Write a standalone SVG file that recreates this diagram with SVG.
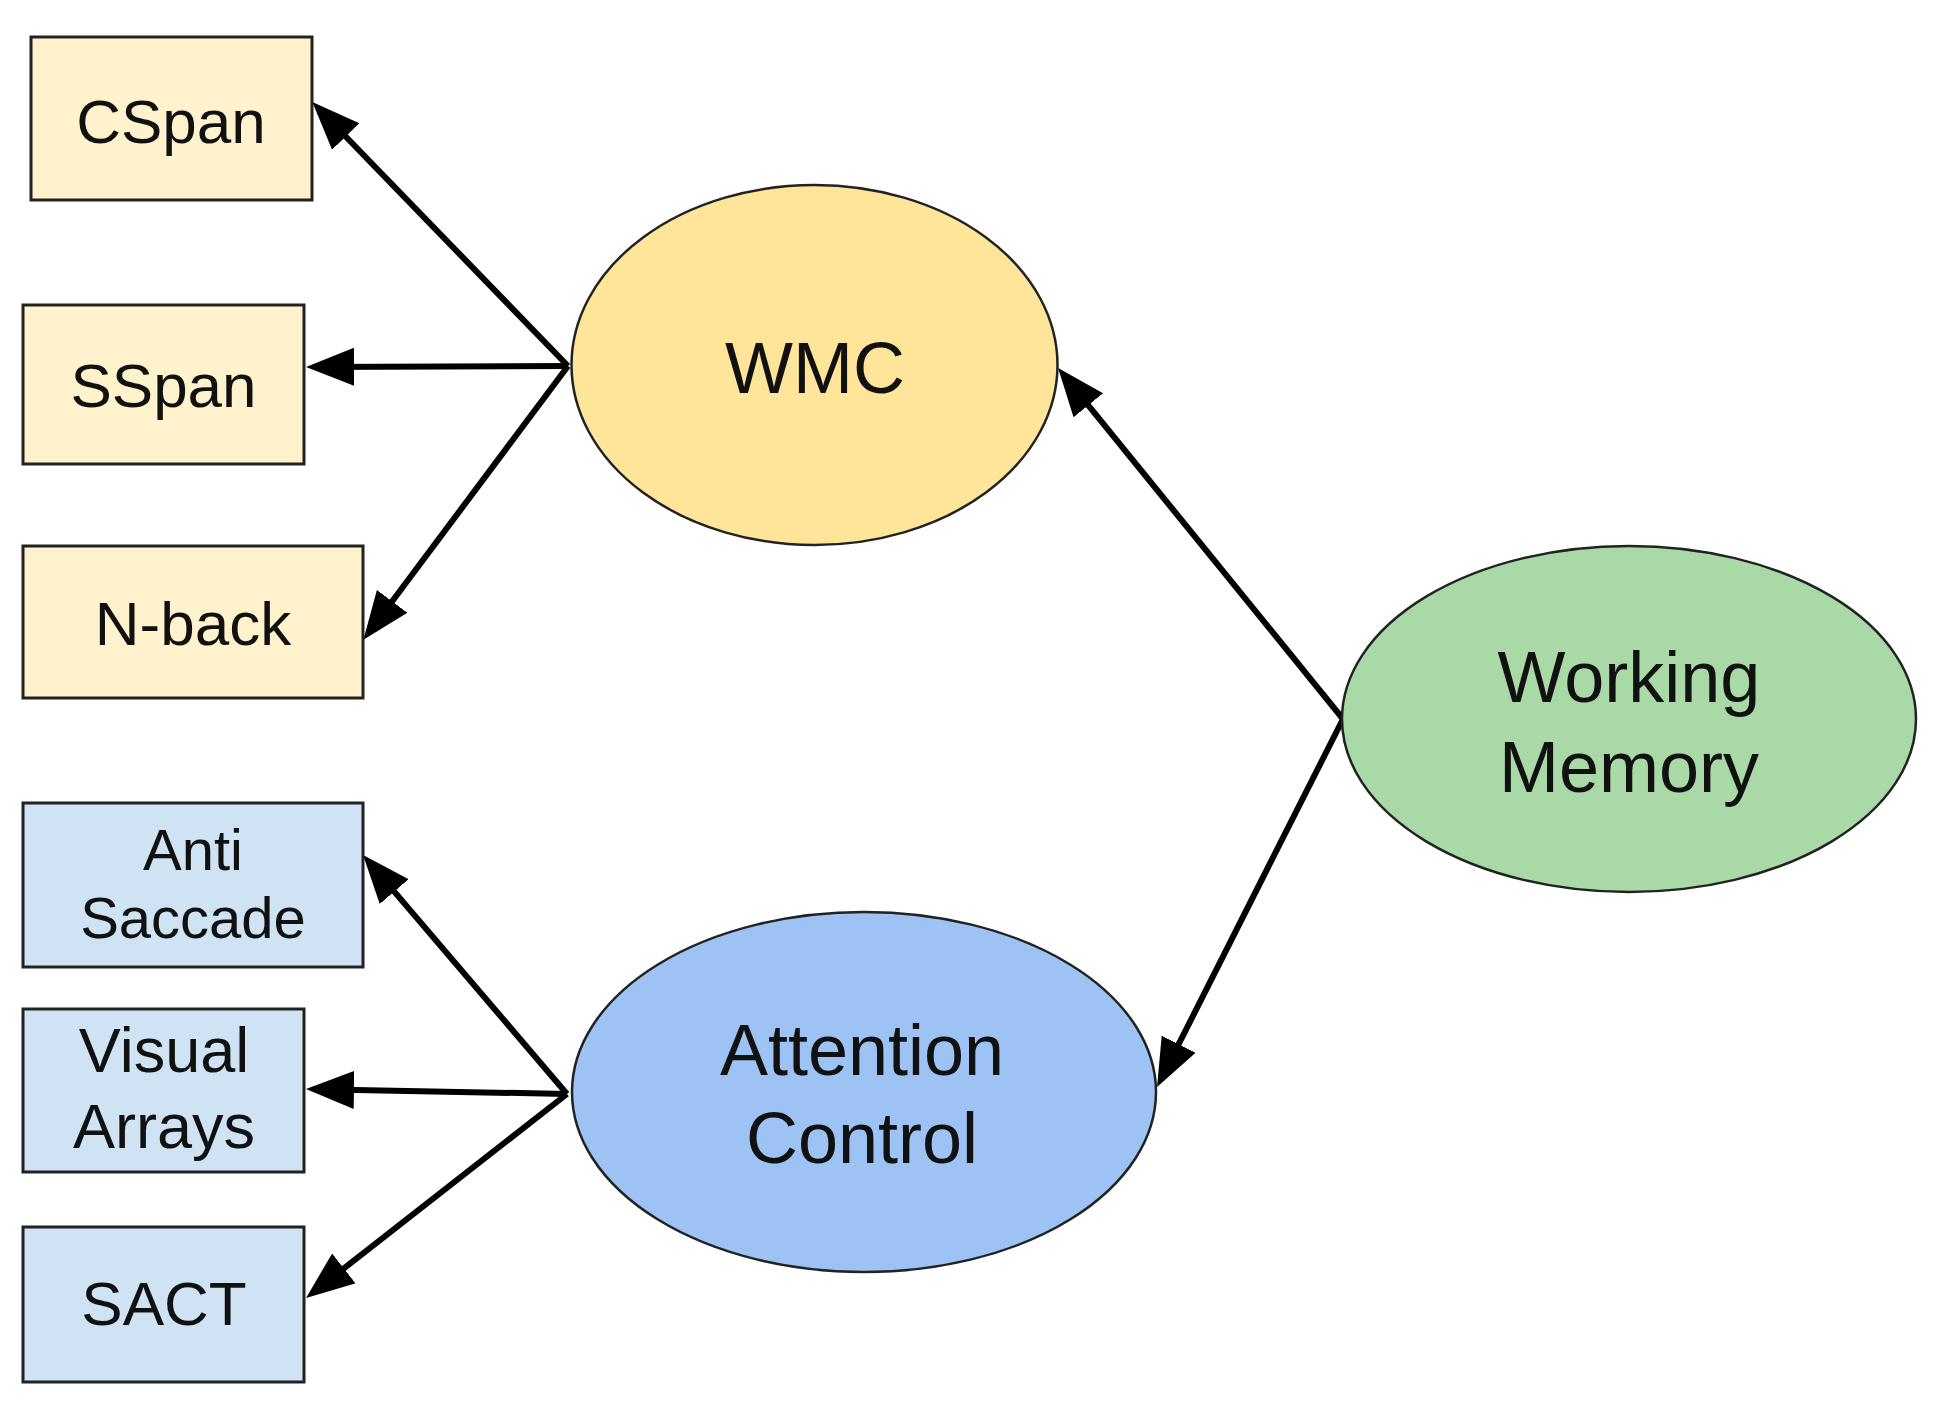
<svg xmlns="http://www.w3.org/2000/svg" width="1935" height="1419" viewBox="0 0 1935 1419">
<style>
text{font-family:"Liberation Sans",Arial,sans-serif;fill:#111;text-anchor:middle}
.box{stroke:#222;stroke-width:3}
.y{fill:#FFF2CC}
.b{fill:#CFE3F5}
.ell{stroke:#222;stroke-width:2.5}
.con{stroke:#000;stroke-width:6;fill:none;marker-end:url(#ah)}
</style>
<defs>
<marker id="ah" markerUnits="userSpaceOnUse" markerWidth="50" markerHeight="40" refX="37" refY="19" orient="auto">
<path d="M0,0 L48,19 L0,38 Z" fill="#000"/>
</marker>
</defs>
<rect width="1935" height="1419" fill="#fff"/>
<g id="connectors">
<line class="con" x1="568" y1="366" x2="320" y2="110"/>
<line class="con" x1="568" y1="366" x2="317" y2="367"/>
<line class="con" x1="568" y1="366" x2="370" y2="631"/>
<line class="con" x1="1343" y1="719" x2="1065" y2="376.6"/>
<line class="con" x1="1343" y1="719" x2="1162" y2="1077.2"/>
<line class="con" x1="567" y1="1094" x2="370.2" y2="863.4"/>
<line class="con" x1="567" y1="1094" x2="317" y2="1089.2"/>
<line class="con" x1="567" y1="1094" x2="314.7" y2="1291.2"/>
</g>
<g id="cspan"><rect class="box y" x="31" y="37" width="281" height="163"/><text x="171" y="143" font-size="62">CSpan</text></g>
<g id="sspan"><rect class="box y" x="23" y="305" width="281" height="159"/><text x="163.5" y="407" font-size="62">SSpan</text></g>
<g id="nback"><rect class="box y" x="23" y="546" width="340" height="152"/><text x="193" y="645" font-size="62">N-back</text></g>
<g id="antisaccade"><rect class="box b" x="23" y="803" width="340" height="164"/><text x="193" y="870" font-size="58">Anti</text><text x="193" y="938" font-size="58">Saccade</text></g>
<g id="visualarrays"><rect class="box b" x="23" y="1009" width="281" height="163"/><text x="164" y="1072" font-size="63">Visual</text><text x="164" y="1148" font-size="63">Arrays</text></g>
<g id="sact"><rect class="box b" x="23" y="1227" width="281" height="155"/><text x="164" y="1325" font-size="62">SACT</text></g>
<g id="wmc"><ellipse class="ell" cx="814.5" cy="365" rx="243" ry="180" fill="#FFE599"/><text x="815" y="393" font-size="72">WMC</text></g>
<g id="attentioncontrol"><ellipse class="ell" cx="864" cy="1092" rx="292" ry="180" fill="#9DC3F5"/><text x="862" y="1075" font-size="72">Attention</text><text x="862" y="1163" font-size="72">Control</text></g>
<g id="workingmemory"><ellipse class="ell" cx="1629" cy="719" rx="287" ry="173" fill="#A8D9A6"/><text x="1629" y="702" font-size="72">Working</text><text x="1629" y="792" font-size="72">Memory</text></g>
</svg>
